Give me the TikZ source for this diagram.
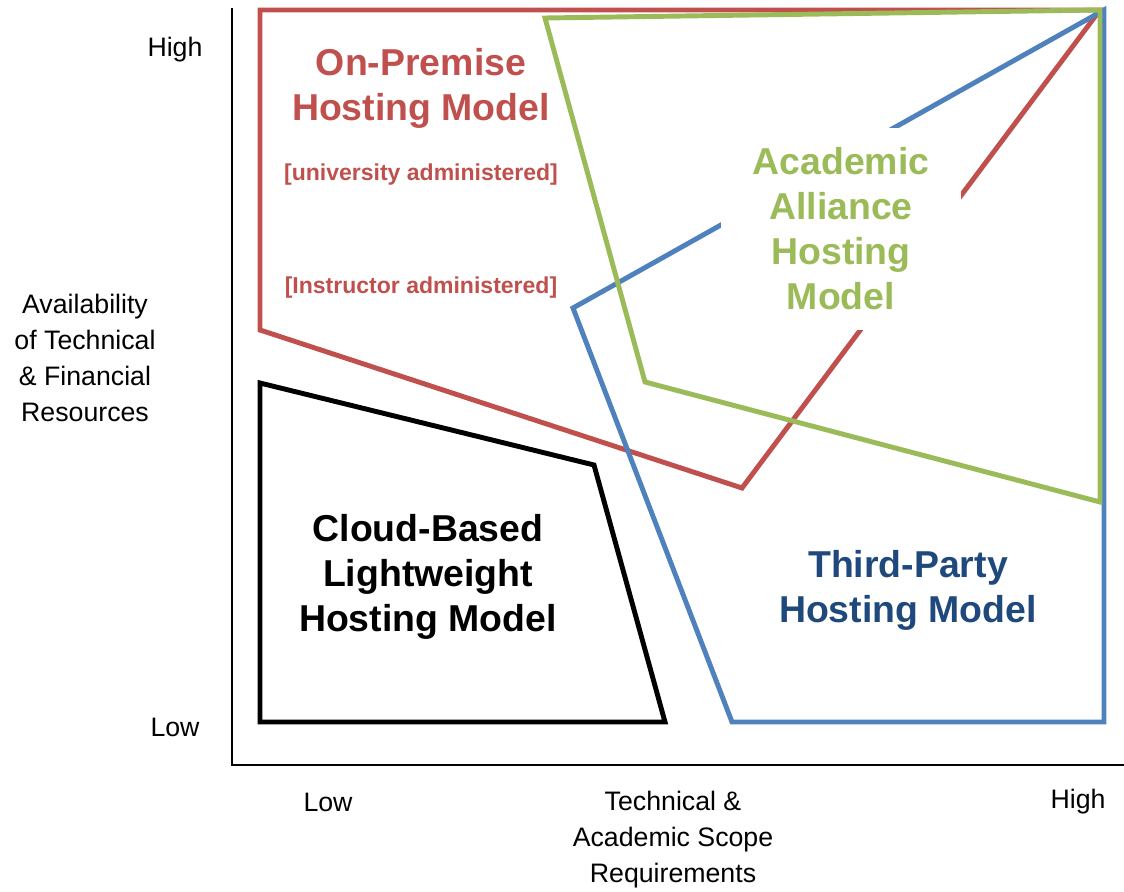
\documentclass[tikz,border=0pt]{standalone}
\usepackage{fontspec}
\setmainfont{Liberation Sans}

\definecolor{premred}{HTML}{C0504D}
\definecolor{alliancegreen}{HTML}{9BBB59}
\definecolor{thirdblue}{HTML}{4F81BD}
\definecolor{thirdtext}{HTML}{1F497D}

\begin{document}
\begin{tikzpicture}[x=0.2mm,y=-0.2mm,
		region/.style={line width=2.8pt},
		model/.style={font=\fontsize{21.3}{25.6}\selectfont\bfseries, align=center},
		admin/.style={font=\fontsize{13.1}{15}\selectfont\bfseries, text=premred},
		axislbl/.style={font=\fontsize{15.2}{20.5}\selectfont, align=center}]
				
				\useasboundingbox (0,0) rectangle (1124,892);
				
				% axes
				\draw[-,line width=1.7pt] (232,8) -- (232,765) -- (1124,765);
				
				\node[axislbl] (lblHighY) at (175,50) {High};
				\node[axislbl] (lblLowY) at (175,727) {Low};
				\node[axislbl] (lblY) at (85,358) {Availability\\of Technical\\\& Financial\\Resources};
				
				\node[axislbl] (lblLowX) at (328,802) {Low};
				\node[axislbl] (lblX) at (673,840) {Technical \&\\Academic Scope\\Requirements};
				\node[axislbl] (lblHighX) at (1078,802) {High};
				
				% hosting model regions
				\draw[region, premred] (260,10) -- (1100,10) -- (742,488) -- (260,330) -- cycle;
				\draw[region, thirdblue] (573,308) -- (1104,10) -- (1104,722) -- (732,722) -- cycle;
				\draw[region, black] (260,383) -- (594,465) -- (665,722) -- (260,722) -- cycle;
				\draw[region, alliancegreen] (545,18) -- (1100,10) -- (1100,502) -- (645,382) -- cycle;
				
				\node[model, text=premred] (OnPremise) at (421,88) {On-Premise\\Hosting Model};
				\node[admin] (UnivAdmin) at (421,175) {[university administered]};
				\node[admin] (InstrAdmin) at (421,288) {[Instructor administered]};
				
				\node[model, text=alliancegreen, fill=white, inner xsep=18pt, inner ysep=11pt] (Alliance) at (841,229) {Academic\\Alliance\\Hosting\\Model};
				
				\node[model, text=thirdtext] (ThirdParty) at (908,590) {Third-Party\\Hosting Model};
				\node[model, text=black] (Cloud) at (428,577) {Cloud-Based\\Lightweight\\Hosting Model};
				
\end{tikzpicture}
\end{document}
